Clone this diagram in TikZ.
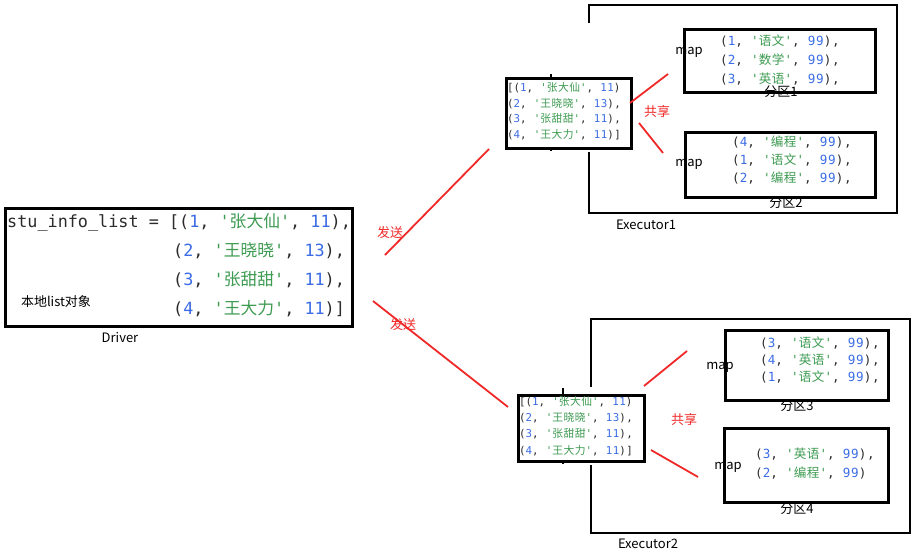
\documentclass[tikz,border=0pt]{standalone}
\usepackage{fontspec}
\setmainfont{Noto Sans CJK SC}
\newfontfamily\cjk{Noto Sans CJK SC}
\newfontfamily\cjkls{Noto Sans CJK SC}[LetterSpace=5]
\newfontfamily\mono{DejaVu Sans Mono}[WordSpace={1,0,0}]
\newfontfamily\monols{DejaVu Sans Mono}[LetterSpace=5]
\definecolor{nc}{HTML}{3B6CE6}
\definecolor{sc}{HTML}{3E9B52}
\definecolor{pc}{HTML}{2B2B2B}
\definecolor{rd}{HTML}{F02828}
\let\curcjk\cjk
\newcommand\tp[4]{\textcolor{pc}{(}\textcolor{nc}{#1}\textcolor{pc}{, }\textcolor{sc}{'{\curcjk #2}'}\textcolor{pc}{, }\textcolor{nc}{#3}\textcolor{pc}{#4}}
\tikzset{
  box/.style={draw, line width=2.6pt, inner sep=0pt, anchor=north west},
  frame/.style={draw, line width=2.6pt},
  bigcode/.style={anchor=base west, inner sep=0pt, font=\mono\fontsize{16.8}{20}\selectfont},
  smallcode/.style={anchor=base west, inner sep=0pt, font=\let\curcjk\cjkls\monols\fontsize{10.8}{12}\selectfont},
  pcode/.style={anchor=base west, inner sep=0pt, font=\let\curcjk\cjkls\monols\fontsize{12.6}{14}\selectfont},
  lab/.style={inner sep=0pt, font=\fontsize{13}{15}\selectfont},
  rlab/.style={inner sep=0pt, text=rd, font=\fontsize{13}{15}\selectfont},
  redline/.style={draw=rd, line width=1.8pt},
}
\begin{document}
\begin{tikzpicture}[x=1pt,y=-1pt]
\useasboundingbox[fill=white] (0,0) rectangle (916,552);

% Driver
\node[box, minimum width=347pt, minimum height=118pt] (drv) at (4,207) {};
\node[bigcode] (d1) at (7,227) {\textcolor{pc}{stu\_info\_list = [}\tp{1}{张大仙}{11}{),}};
\node[bigcode] (d2) at (173,256) {\tp{2}{王晓晓}{13}{),}};
\node[bigcode] (d3) at (173,285) {\tp{3}{张甜甜}{11}{),}};
\node[bigcode] (d4) at (173,314) {\tp{4}{王大力}{11}{)]}};
\node[lab] (loc) at (56,302) {本地list对象};
\node[lab] (drvl) at (120,338) {Driver};

% Executor 1
\draw[frame] (589,23) -- (589,5) -- (897,5) -- (897,213) -- (589,213) -- (589,152);
\node[lab] (ex1) at (646,225) {Executor1};
\node[box, minimum width=125pt, minimum height=70pt] (l1) at (505,77) {};
\draw[frame] (551,74) -- (551,77);
\draw[frame] (551,147) -- (551,151);
\node[smallcode] (l1a) at (507,91.5) {\textcolor{pc}{[}\tp{1}{张大仙}{11}{)}};
\node[smallcode] (l1b) at (507,107) {\tp{2}{王晓晓}{13}{),}};
\node[smallcode] (l1c) at (507,122.5) {\tp{3}{张甜甜}{11}{),}};
\node[smallcode] (l1d) at (507,138) {\tp{4}{王大力}{11}{)]}};

\node[box, minimum width=191pt, minimum height=63pt] (p1) at (683,28) {};
\node[pcode] (p1a) at (720,45) {\tp{1}{语文}{99}{),}};
\node[pcode] (p1b) at (720,64) {\tp{2}{数学}{99}{),}};
\node[pcode] (p1c) at (720,83) {\tp{3}{英语}{99}{),}};
\node[lab] (m1) at (689,52) {map};
\node[lab] (q1) at (781,92) {分区1};

\node[box, minimum width=190pt, minimum height=65pt] (p2) at (684,131) {};
\node[pcode] (p2a) at (732,146) {\tp{4}{编程}{99}{),}};
\node[pcode] (p2b) at (732,164) {\tp{1}{语文}{99}{),}};
\node[pcode] (p2c) at (732,182) {\tp{2}{编程}{99}{),}};
\node[lab] (m2) at (689,164) {map};
\node[lab] (q2) at (786,203) {分区2};

\coordinate (h1a) at (630,103); \coordinate (h1b) at (668,74);
\coordinate (h2a) at (639,123); \coordinate (h2b) at (663,153);
\draw[redline] (h1a) -- (h1b);
\draw[redline] (h2a) -- (h2b);
\node[rlab] (g1) at (657,112) {共享};

% Executor 2
\draw[frame] (591,387) -- (591,319) -- (910,319) -- (910,533) -- (591,533) -- (591,465);
\node[lab] (ex2) at (648,544) {Executor2};
\node[box, minimum width=126pt, minimum height=66pt] (l2) at (517,394) {};
\draw[frame] (563,388) -- (563,394);
\draw[frame] (563,460) -- (563,464);
\node[smallcode] (l2a) at (519,405.5) {\textcolor{pc}{[}\tp{1}{张大仙}{11}{)}};
\node[smallcode] (l2b) at (519,421.5) {\tp{2}{王晓晓}{13}{),}};
\node[smallcode] (l2c) at (519,437.5) {\tp{3}{张甜甜}{11}{),}};
\node[smallcode] (l2d) at (519,454.5) {\tp{4}{王大力}{11}{)]}};

\node[box, minimum width=163pt, minimum height=70pt] (p3) at (724,329) {};
\node[pcode] (p3a) at (760,347) {\tp{3}{语文}{99}{),}};
\node[pcode] (p3b) at (760,364) {\tp{4}{英语}{99}{),}};
\node[pcode] (p3c) at (760,381) {\tp{1}{语文}{99}{),}};
\node[lab] (m3) at (720,367) {map};
\node[lab] (q3) at (797,406) {分区3};

\node[box, minimum width=164pt, minimum height=74pt] (p4) at (723,427) {};
\node[pcode] (p4a) at (755,458) {\tp{3}{英语}{99}{),}};
\node[pcode] (p4b) at (755,477) {\tp{2}{编程}{99}{)}};
\node[lab] (m4) at (728,467) {map};
\node[lab] (q4) at (797,509) {分区4};

\coordinate (h3a) at (644,386); \coordinate (h3b) at (687,351);
\coordinate (h4a) at (651,450); \coordinate (h4b) at (698,477);
\draw[redline] (h3a) -- (h3b);
\draw[redline] (h4a) -- (h4b);
\node[rlab] (g2) at (684,420) {共享};

% send lines
\coordinate (s1a) at (385,255); \coordinate (s1b) at (489,149);
\coordinate (s2a) at (373,301); \coordinate (s2b) at (508,407);
\draw[redline] (s1a) -- (s1b);
\draw[redline] (s2a) -- (s2b);
\node[rlab] (f1) at (390,233) {发送};
\node[rlab] (f2) at (403,325) {发送};
\end{tikzpicture}
\end{document}
